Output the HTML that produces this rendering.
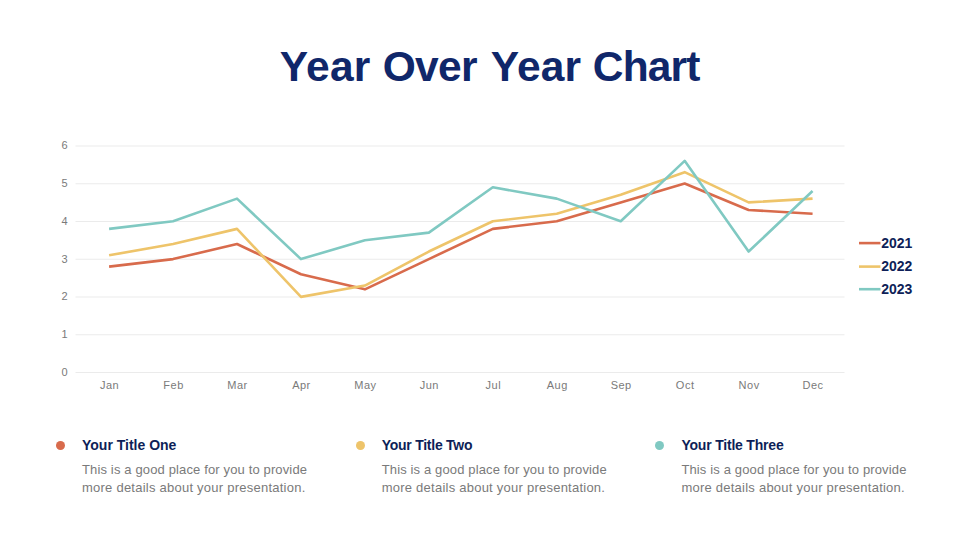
<!DOCTYPE html>
<html><head><meta charset="utf-8"><style>
html,body{margin:0;padding:0;background:#fff;}
body{width:980px;height:551px;position:relative;overflow:hidden;font-family:"Liberation Sans",sans-serif;}
.tw{position:absolute;color:#10276a;font-weight:bold;font-size:42.5px;line-height:41px;top:45.5px;white-space:nowrap;letter-spacing:0.74px;}
svg{position:absolute;left:0;top:0;}
.ax{font-family:"Liberation Sans",sans-serif;font-size:11px;fill:#7a7a7a;letter-spacing:0.5px;}
.lg{font-family:"Liberation Sans",sans-serif;font-size:14px;font-weight:bold;fill:#0e1f58;letter-spacing:0px;}
.dot{position:absolute;top:440.6px;width:9px;height:9px;border-radius:50%;}
.ct{position:absolute;top:436.8px;font-size:14px;line-height:17px;font-weight:bold;color:#0e1f58;white-space:nowrap;}
.cb{position:absolute;top:461px;font-size:13px;line-height:17.5px;color:#7a7a7a;white-space:nowrap;}
</style></head><body>
<div class="tw" style="left:279.7px;letter-spacing:0.3px">Year</div><div class="tw" style="left:382.7px;letter-spacing:-0.66px">Over</div><div class="tw" style="left:490.8px;letter-spacing:0.12px">Year</div><div class="tw" style="left:592.8px;letter-spacing:-0.85px">Chart</div>
<svg width="980" height="551" viewBox="0 0 980 551">
<line x1="75.5" y1="372.50" x2="844.5" y2="372.50" stroke="#ebebeb" stroke-width="1.1"/>
<text x="68" y="375.90" text-anchor="end" class="ax">0</text>
<line x1="75.5" y1="334.75" x2="844.5" y2="334.75" stroke="#ebebeb" stroke-width="1.1"/>
<text x="68" y="338.15" text-anchor="end" class="ax">1</text>
<line x1="75.5" y1="297.00" x2="844.5" y2="297.00" stroke="#ebebeb" stroke-width="1.1"/>
<text x="68" y="300.40" text-anchor="end" class="ax">2</text>
<line x1="75.5" y1="259.25" x2="844.5" y2="259.25" stroke="#ebebeb" stroke-width="1.1"/>
<text x="68" y="262.65" text-anchor="end" class="ax">3</text>
<line x1="75.5" y1="221.50" x2="844.5" y2="221.50" stroke="#ebebeb" stroke-width="1.1"/>
<text x="68" y="224.90" text-anchor="end" class="ax">4</text>
<line x1="75.5" y1="183.75" x2="844.5" y2="183.75" stroke="#ebebeb" stroke-width="1.1"/>
<text x="68" y="187.15" text-anchor="end" class="ax">5</text>
<line x1="75.5" y1="146.00" x2="844.5" y2="146.00" stroke="#ebebeb" stroke-width="1.1"/>
<text x="68" y="149.40" text-anchor="end" class="ax">6</text>
<text x="109.60" y="389.2" text-anchor="middle" class="ax">Jan</text>
<text x="173.56" y="389.2" text-anchor="middle" class="ax">Feb</text>
<text x="237.50" y="389.2" text-anchor="middle" class="ax">Mar</text>
<text x="301.46" y="389.2" text-anchor="middle" class="ax">Apr</text>
<text x="365.41" y="389.2" text-anchor="middle" class="ax">May</text>
<text x="429.36" y="389.2" text-anchor="middle" class="ax">Jun</text>
<text x="493.31" y="389.2" text-anchor="middle" class="ax">Jul</text>
<text x="557.25" y="389.2" text-anchor="middle" class="ax">Aug</text>
<text x="621.21" y="389.2" text-anchor="middle" class="ax">Sep</text>
<text x="685.15" y="389.2" text-anchor="middle" class="ax">Oct</text>
<text x="749.11" y="389.2" text-anchor="middle" class="ax">Nov</text>
<text x="813.06" y="389.2" text-anchor="middle" class="ax">Dec</text>
<polyline points="109.10,266.66 173.06,259.10 237.00,243.98 300.96,274.22 364.91,289.34 428.86,259.10 492.81,228.86 556.75,221.30 620.71,202.40 684.65,183.50 748.61,209.96 812.56,213.74" fill="none" stroke="#d86b4c" stroke-width="2.6" stroke-linejoin="round" stroke-linecap="butt"/>
<polyline points="109.10,255.32 173.06,243.98 237.00,228.86 300.96,296.90 364.91,285.56 428.86,251.54 492.81,221.30 556.75,213.74 620.71,194.84 684.65,172.16 748.61,202.40 812.56,198.62" fill="none" stroke="#eec46a" stroke-width="2.6" stroke-linejoin="round" stroke-linecap="butt"/>
<polyline points="109.10,228.86 173.06,221.30 237.00,198.62 300.96,259.10 364.91,240.20 428.86,232.64 492.81,187.28 556.75,198.62 620.71,221.30 684.65,160.82 748.61,251.54 812.56,191.06" fill="none" stroke="#80c9c2" stroke-width="2.6" stroke-linejoin="round" stroke-linecap="butt"/>
<line x1="859" y1="243.1" x2="880.5" y2="243.1" stroke="#d86b4c" stroke-width="2.6" stroke-linecap="butt"/>
<text x="881.2" y="247.90" class="lg">2021</text>
<line x1="859" y1="266.6" x2="880.5" y2="266.6" stroke="#eec46a" stroke-width="2.6" stroke-linecap="butt"/>
<text x="881.2" y="271.40" class="lg">2022</text>
<line x1="859" y1="289.2" x2="880.5" y2="289.2" stroke="#80c9c2" stroke-width="2.6" stroke-linecap="butt"/>
<text x="881.2" y="294.00" class="lg">2023</text>
</svg>
<div class="dot" style="left:55.8px;background:#d86b4c"></div>
<div class="ct" style="left:82.0px;letter-spacing:0px">Your Title One</div>
<div class="cb" style="left:82.0px"><span style="letter-spacing:0.14px">This is a good place for you to provide</span><br><span style="letter-spacing:0.24px">more details about your presentation.</span></div>
<div class="dot" style="left:355.5px;background:#eec46a"></div>
<div class="ct" style="left:381.7px;letter-spacing:-0.25px">Your Title Two</div>
<div class="cb" style="left:381.7px"><span style="letter-spacing:0.14px">This is a good place for you to provide</span><br><span style="letter-spacing:0.24px">more details about your presentation.</span></div>
<div class="dot" style="left:655.2px;background:#80c9c2"></div>
<div class="ct" style="left:681.4px;letter-spacing:-0.2px">Your Title Three</div>
<div class="cb" style="left:681.4px"><span style="letter-spacing:0.14px">This is a good place for you to provide</span><br><span style="letter-spacing:0.24px">more details about your presentation.</span></div>

</body></html>
